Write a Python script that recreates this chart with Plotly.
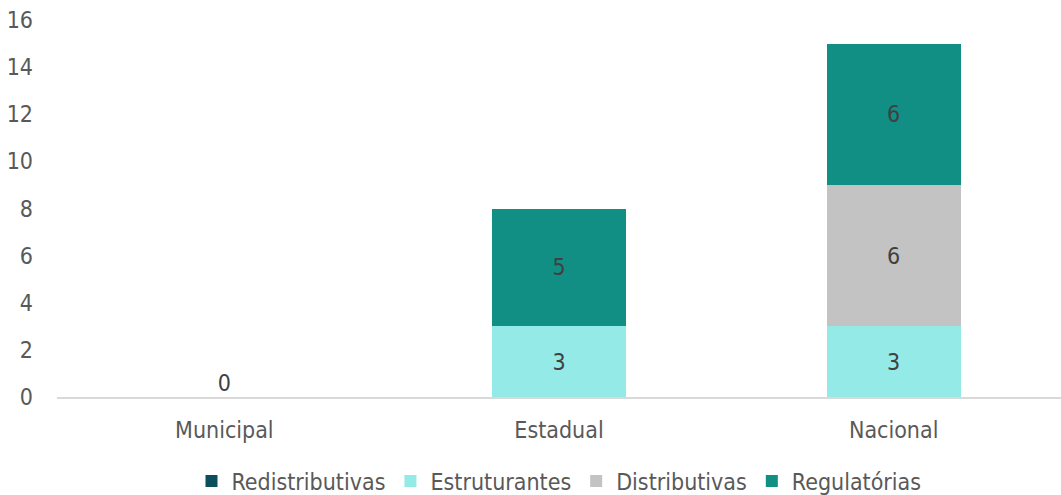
import plotly.graph_objects as go

# Category and series data
categories = ["Municipal", "Estadual", "Nacional"]
redistributivas = [0, 0, 0]
estruturantes = [0, 3, 3]
distributivas = [0, 0, 6]
regulatorias = [0, 5, 6]

series_names = ["Redistributivas", "Estruturantes", "Distributivas", "Regulatórias"]
series_values = [redistributivas, estruturantes, distributivas, regulatorias]
series_colors = ["#0B4F5C", "#93EAE7", "#C3C3C3", "#118F85"]

y_ticks = [0, 2, 4, 6, 8, 10, 12, 14, 16]

FONT = "DejaVu Sans Condensed, DejaVu Sans"
TICK_COLOR = "#595959"
LABEL_COLOR = "#404040"
SIZE = 23

fig = go.Figure()

for name, vals, color in zip(series_names, series_values, series_colors):
    fig.add_trace(go.Bar(
        name=name,
        x=categories,
        y=vals,
        marker=dict(color=color, line=dict(width=0)),
        text=[str(v) if v else "" for v in vals],
        textposition="inside",
        insidetextanchor="middle",
        textangle=0,
        textfont=dict(family=FONT, size=SIZE, color=LABEL_COLOR),
        hoverinfo="skip",
    ))

# Label for categories whose stack totals zero, drawn at the baseline
totals = [sum(s[i] for s in series_values) for i in range(len(categories))]
zero_cats = [c for c, t in zip(categories, totals) if t == 0]
zero_vals = [t for t in totals if t == 0]
fig.add_trace(go.Scatter(
    x=zero_cats,
    y=zero_vals,
    mode="text",
    text=[str(v) for v in zero_vals],
    textposition="top center",
    textfont=dict(family=FONT, size=SIZE, color=LABEL_COLOR),
    showlegend=False,
    hoverinfo="skip",
))

fig.update_layout(
    barmode="stack",
    bargap=0.6,
    width=1061,
    height=495,
    margin=dict(l=57, r=0, t=20, b=98, autoexpand=False),
    paper_bgcolor="white",
    plot_bgcolor="white",
    font=dict(family=FONT, size=SIZE, color=TICK_COLOR),
    showlegend=True,
    legend=dict(
        orientation="h",
        x=0.5,
        xanchor="center",
        yref="container",
        y=0.028,
        yanchor="middle",
        font=dict(family=FONT, size=SIZE, color=TICK_COLOR),
        itemsizing="constant",
        traceorder="normal",
        itemwidth=30,
    ),
    xaxis=dict(
        showgrid=False,
        showline=True,
        linecolor="#D9D9D9",
        linewidth=2,
        ticks="",
        ticklabelstandoff=11,
        automargin=False,
        tickfont=dict(family=FONT, size=SIZE, color=TICK_COLOR),
    ),
    yaxis=dict(
        range=[0, 16],
        tickvals=y_ticks,
        showgrid=False,
        zeroline=False,
        showline=False,
        ticks="",
        ticklabelstandoff=23,
        automargin=False,
        tickfont=dict(family=FONT, size=SIZE, color=TICK_COLOR),
    ),
)

fig.write_html("out.html")
